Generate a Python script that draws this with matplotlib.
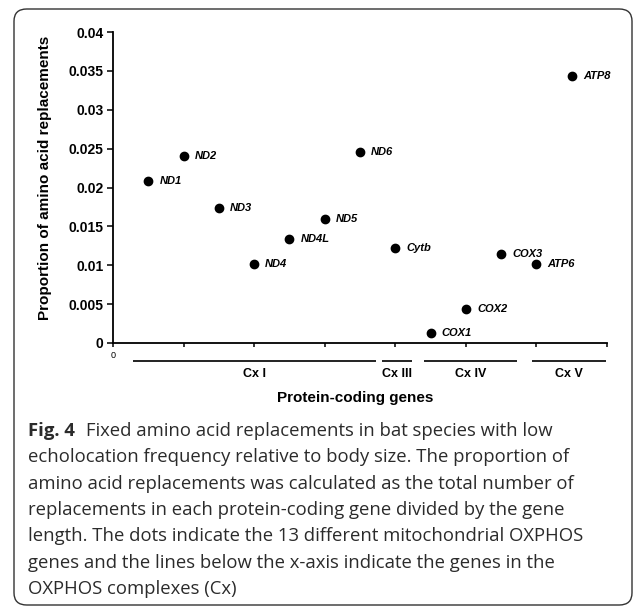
import matplotlib
matplotlib.use("Agg")
import matplotlib.pyplot as plt
from matplotlib.patches import FancyBboxPatch
import matplotlib.transforms as mtransforms

# data
genes = ["ND1", "ND2", "ND3", "ND4", "ND4L", "ND5", "ND6",
         "Cytb", "COX1", "COX2", "COX3", "ATP6", "ATP8"]
gene_pos = list(range(1, 14))
proportion = [0.0209, 0.0240, 0.0173, 0.0101, 0.0134, 0.0159, 0.0246,
              0.0122, 0.0013, 0.0044, 0.0114, 0.0102, 0.0343]

complexes = ["Cx I", "Cx III", "Cx IV", "Cx V"]
complex_start = [0.57, 7.62, 8.81, 11.87]
complex_end = [7.45, 8.47, 11.45, 13.97]

caption_lines = [
    "Fixed amino acid replacements in bat species with low",
    "echolocation frequency relative to body size. The proportion of",
    "amino acid replacements was calculated as the total number of",
    "replacements in each protein-coding gene divided by the gene",
    "length. The dots indicate the 13 different mitochondrial OXPHOS",
    "genes and the lines below the x-axis indicate the genes in the",
    "OXPHOS complexes (Cx)",
]

W, H = 637, 609
fig = plt.figure(figsize=(W / 100, H / 100), dpi=100)

# rounded frame around figure + caption
box = FancyBboxPatch((14 / W, 1 - 605 / H), 618 / W, 596 / H,
                     boxstyle="round,pad=0,rounding_size=0.02",
                     transform=fig.transFigure, fill=False,
                     edgecolor="#333333", linewidth=1.0)
fig.patches.append(box)

ax = fig.add_axes([113 / W, 1 - 343 / H, 494 / W, 311 / H])
ax.plot(gene_pos, proportion, "o", color="black", markersize=6)
for x, y, g in zip(gene_pos, proportion, genes):
    ax.annotate(g, (x, y), xytext=(8, 0), textcoords="offset points",
                va="center", ha="left", fontsize=8, fontstyle="italic",
                fontweight="bold", family="Liberation Sans")

ax.set_xlim(0, 14)
ax.set_ylim(0, 0.04)
ax.set_yticks([0, 0.005, 0.01, 0.015, 0.02, 0.025, 0.03, 0.035, 0.04])
ax.set_yticklabels(["0", "0.005", "0.01", "0.015", "0.02", "0.025",
                    "0.03", "0.035", "0.04"],
                   fontsize=10, fontweight="bold", family="Liberation Sans")
ax.set_xticks(range(0, 15, 2))
ax.set_xticklabels(["0"] + [""] * 7, fontsize=6.5, family="Liberation Sans")
ax.tick_params(axis="y", direction="out", length=4, width=1.1, pad=3)
ax.tick_params(axis="x", direction="out", length=3, width=1.1, pad=3)
for s in ["top", "right"]:
    ax.spines[s].set_visible(False)
for s in ["left", "bottom"]:
    ax.spines[s].set_linewidth(1.3)

ax.set_ylabel("Proportion of amino acid replacements", fontsize=11,
              fontweight="bold", family="Liberation Sans")
ax.yaxis.set_label_coords(-0.123, 0.532)
ax.set_xlabel("Protein-coding genes", fontsize=11, fontweight="bold",
              family="Liberation Sans")
ax.xaxis.set_label_coords(0.49, -0.155)

# complex bars below the axis
trans = mtransforms.blended_transform_factory(ax.transData, ax.transAxes)
for name, a, b in zip(complexes, complex_start, complex_end):
    ax.plot([a, b], [-0.058, -0.058], color="#222222", linewidth=1.4,
            transform=trans, clip_on=False, solid_capstyle="butt")
    ax.text((a + b) / 2, -0.1, name, transform=trans, ha="center",
            va="center", fontsize=9, fontweight="bold",
            family="Liberation Sans")

# caption
cap_font = ["Open Sans", "DejaVu Sans"]
cap_size = 13.3
cap_color = "#2b2b2b"
x0 = 28 / W
base0 = 436
step = 26.3
t = fig.text(x0, 1 - base0 / H, "Fig. 4", fontsize=cap_size, fontweight="bold",
             family=cap_font, color=cap_color, va="baseline")
fig.canvas.draw()
bb = t.get_window_extent()
fig.text((bb.x1 + 11) / W, 1 - base0 / H, caption_lines[0], fontsize=cap_size,
         family=cap_font, color=cap_color, va="baseline")
for i, line in enumerate(caption_lines[1:], start=1):
    fig.text(x0, 1 - (base0 + i * step) / H, line, fontsize=cap_size,
             family=cap_font, color=cap_color, va="baseline")

fig.savefig("out.png", dpi=100)
